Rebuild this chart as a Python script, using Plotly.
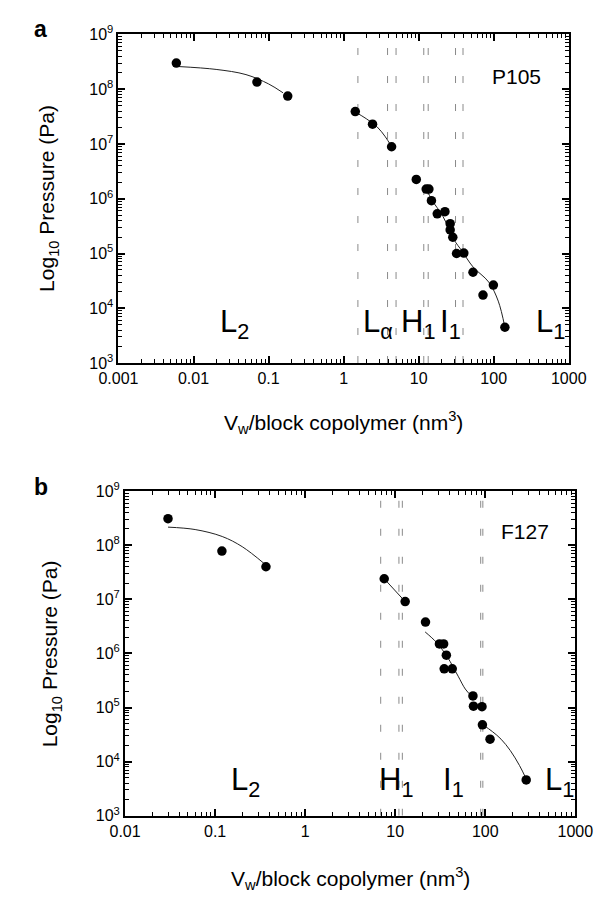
import plotly.graph_objects as go

# ---------------- data ----------------
# Panel a : P105
a_x = [0.0059, 0.070, 0.18, 1.43, 2.43, 4.36, 9.3, 12.6, 13.7, 14.8, 17.7, 22.4,
       26.3, 26.3, 28.5, 32, 40, 53, 72, 99, 141]
a_y = [3.0e8, 1.35e8, 7.5e7, 3.9e7, 2.3e7, 8.9e6, 2.25e6, 1.5e6, 1.5e6, 9.2e5, 5.3e5, 5.8e5,
       3.5e5, 2.7e5, 1.98e5, 1.0e5, 1.02e5, 4.55e4, 1.74e4, 2.65e4, 4.5e3]

a_fit1_x = [0.0062, 0.02, 0.05, 0.1, 0.156]
a_fit1_y = [2.6e8, 2.3e8, 1.85e8, 1.25e8, 8.6e7]
a_fit2_x = [1.45, 2.0, 2.8, 3.6, 4.3]
a_fit2_y = [3.8e7, 2.9e7, 2.05e7, 1.35e7, 9.2e6]
a_fit3_x = [12.9, 15, 21, 29.5, 38, 53, 86, 115, 141]
a_fit3_y = [1.45e6, 9.5e5, 4.8e5, 1.8e5, 1.1e5, 5.7e4, 3.0e4, 1.35e4, 4.5e3]

a_dash = [1.55, 3.85, 5.0, 11.7, 13.4, 31, 39]

# Panel b : F127
b_x = [0.030, 0.119, 0.367, 7.55, 12.9, 21.7, 31, 34.5, 37, 35, 43, 73, 74, 92, 93, 113, 285]
b_y = [3.1e8, 7.8e7, 4.0e7, 2.4e7, 9.1e6, 3.8e6, 1.5e6, 1.5e6, 9.3e5, 5.2e5, 5.2e5,
       1.64e5, 1.06e5, 1.04e5, 4.8e4, 2.6e4, 4.6e3]

b_fit1_x = [0.030, 0.06, 0.12, 0.2, 0.35]
b_fit1_y = [2.16e8, 1.95e8, 1.45e8, 9.4e7, 4.6e7]
b_fit2_x = [7.55, 12.9]
b_fit2_y = [2.4e7, 9.1e6]
b_fit3_x = [21.5, 28.7, 37.8, 50, 60, 70]
b_fit3_y = [2.5e6, 1.6e6, 8.7e5, 3.8e5, 2.2e5, 1.65e5]
b_fit4_x = [94, 120, 150, 190, 240, 285]
b_fit4_y = [4.8e4, 3.6e4, 2.6e4, 1.6e4, 8.5e3, 4.8e3]

b_dash = [6.9, 11.0, 12.0, 89, 94]

y_tickvals = [1e3, 1e4, 1e5, 1e6, 1e7, 1e8, 1e9]
y_ticktext = ["10<sup>3</sup>", "10<sup>4</sup>", "10<sup>5</sup>", "10<sup>6</sup>",
              "10<sup>7</sup>", "10<sup>8</sup>", "10<sup>9</sup>"]
a_xtickvals = [0.001, 0.01, 0.1, 1, 10, 100, 1000]
a_xticktext = ["0.001", "0.01", "0.1", "1", "10", "100", "1000"]
b_xtickvals = [0.01, 0.1, 1, 10, 100, 1000]
b_xticktext = ["0.01", "0.1", "1", "10", "100", "1000"]

# phase labels: (text, log10 x position)
a_labels = [("L<sub>2</sub>", -1.675), ("L<sub>α</sub>", 0.2375), ("H<sub>1</sub>", 0.7375),
            ("I<sub>1</sub>", 1.2625), ("L<sub>1</sub>", 2.5375)]
b_labels = [("L<sub>2</sub>", -0.844), ("H<sub>1</sub>", 0.802),
            ("I<sub>1</sub>", 1.51), ("L<sub>1</sub>", 2.646)]

FONT = "Liberation Sans, Arial, sans-serif"
W, H = 613, 903


def minor_vals(lo, hi):
    vals = []
    for e in range(lo, hi):
        for m in range(2, 10):
            vals.append(m * 10 ** e)
    return vals


fig = go.Figure()

marker = dict(color="black", size=9.5)
fitline = dict(color="#222222", width=1)
dashline = dict(color="#8a8a8a", width=1, dash="7px,21px")

# panel a traces
for d in a_dash:
    fig.add_trace(go.Scatter(x=[d, d], y=[1e3, 1e9], mode="lines", line=dashline,
                             xaxis="x", yaxis="y", showlegend=False, hoverinfo="skip"))
for fx, fy in [(a_fit1_x, a_fit1_y), (a_fit2_x, a_fit2_y), (a_fit3_x, a_fit3_y)]:
    fig.add_trace(go.Scatter(x=fx, y=fy, mode="lines", line=dict(fitline, shape="spline"),
                             xaxis="x", yaxis="y", showlegend=False))
fig.add_trace(go.Scatter(x=a_x, y=a_y, mode="markers", marker=marker,
                         xaxis="x", yaxis="y", showlegend=False))

# panel b traces
for d in b_dash:
    fig.add_trace(go.Scatter(x=[d, d], y=[1e3, 1e9], mode="lines", line=dashline,
                             xaxis="x2", yaxis="y2", showlegend=False, hoverinfo="skip"))
for fx, fy in [(b_fit1_x, b_fit1_y), (b_fit2_x, b_fit2_y), (b_fit3_x, b_fit3_y), (b_fit4_x, b_fit4_y)]:
    fig.add_trace(go.Scatter(x=fx, y=fy, mode="lines", line=dict(fitline, shape="spline"),
                             xaxis="x2", yaxis="y2", showlegend=False))
fig.add_trace(go.Scatter(x=b_x, y=b_y, mode="markers", marker=marker,
                         xaxis="x2", yaxis="y2", showlegend=False))

axis_common = dict(type="log", showline=True, linecolor="black", linewidth=2, mirror="ticks",
                   ticks="inside", ticklen=7, tickwidth=1.5, tickcolor="black",
                   showgrid=False, zeroline=False,
                   tickfont=dict(family=FONT, size=16, color="black"))

fig.update_layout(
    width=W, height=H, margin=dict(l=0, r=0, t=0, b=0),
    paper_bgcolor="white", plot_bgcolor="white",
    font=dict(family=FONT, color="black"),
    xaxis=dict(axis_common, domain=[105 / W, 585 / W], range=[-3, 3], anchor="y",
               tickmode="array", tickvals=a_xtickvals, ticktext=a_xticktext,
               minor=dict(tickmode="array", tickvals=minor_vals(-3, 3), ticks="inside",
                          ticklen=4, tickwidth=1, tickcolor="black", showgrid=False)),
    yaxis=dict(axis_common, domain=[1 - 360 / H, 1 - 24 / H], range=[3, 9], anchor="x",
               tickmode="array", tickvals=y_tickvals, ticktext=y_ticktext,
               minor=dict(tickmode="array", tickvals=minor_vals(3, 9), ticks="inside",
                          ticklen=4, tickwidth=1, tickcolor="black", showgrid=False)),
    xaxis2=dict(axis_common, domain=[112 / W, 592 / W], range=[-2, 3], anchor="y2",
                tickmode="array", tickvals=b_xtickvals, ticktext=b_xticktext,
                minor=dict(tickmode="array", tickvals=minor_vals(-2, 3), ticks="inside",
                           ticklen=4, tickwidth=1, tickcolor="black", showgrid=False)),
    yaxis2=dict(axis_common, domain=[1 - 823 / H, 1 - 491 / H], range=[3, 9], anchor="x2",
                tickmode="array", tickvals=y_tickvals, ticktext=y_ticktext,
                minor=dict(tickmode="array", tickvals=minor_vals(3, 9), ticks="inside",
                           ticklen=4, tickwidth=1, tickcolor="black", showgrid=False)),
)

ann = []


def pa(text, xc, yc, size, angle=0):
    return dict(text=text, x=xc / W, y=1 - yc / H, xref="paper", yref="paper",
                xanchor="center", yanchor="middle", textangle=angle,
                showarrow=False, font=dict(size=size, family=FONT, color="black"))


# panel letters
ann.append(pa("<b>a</b>", 22, 18, 23))
ann.append(pa("<b>b</b>", 22, 487, 23))
# sample names
ann.append(pa("P105", 529, 67, 21))
ann.append(pa("F127", 538, 532, 21))
# axis titles
ann.append(pa("Log<sub>10</sub> Pressure (Pa)", 30, 192, 21, -90))
ann.append(pa("Log<sub>10</sub> Pressure (Pa)", 34, 657, 21, -90))
ann.append(pa("V<sub>w</sub>/block copolymer (nm<sup>3</sup>)", 345, 421, 21))
ann.append(pa("V<sub>w</sub>/block copolymer (nm<sup>3</sup>)", 352, 887, 21))
# phase labels
for t, lx in a_labels:
    ann.append(dict(text=t, x=lx, y=3.72, xref="x", yref="y", xanchor="left", yanchor="middle",
                    showarrow=False, font=dict(size=31, family=FONT, color="black")))
for t, lx in b_labels:
    ann.append(dict(text=t, x=lx, y=3.62, xref="x2", yref="y2", xanchor="left", yanchor="middle",
                    showarrow=False, font=dict(size=31, family=FONT, color="black")))

fig.update_layout(annotations=ann)
fig.write_html("out.html")
